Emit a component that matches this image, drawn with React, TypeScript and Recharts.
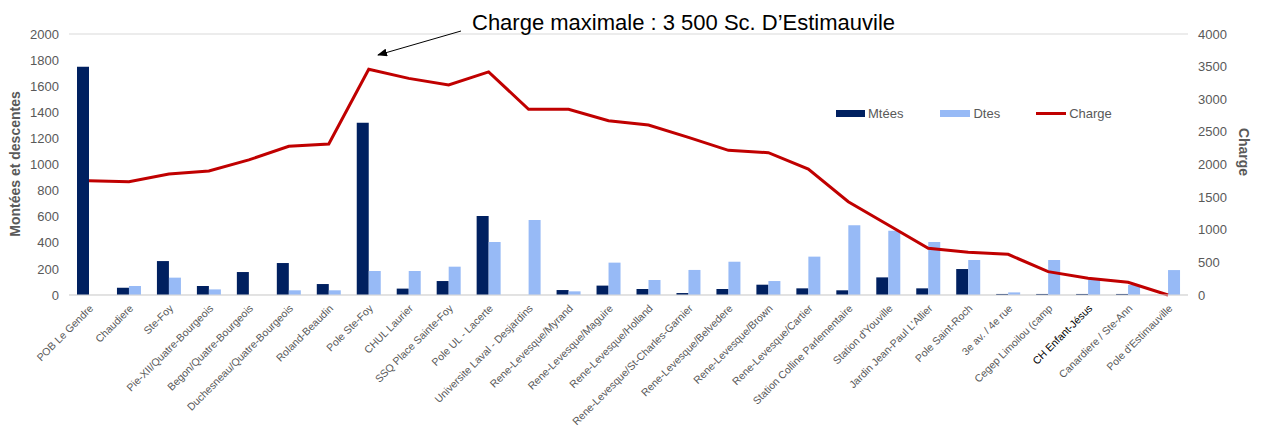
import { ComposedChart, Bar, Line, XAxis, YAxis, CartesianGrid } from 'recharts'

const stations = [
  'POB Le Gendre', 'Chaudiere', 'Ste-Foy', 'Pie-XII/Quatre-Bourgeois', 'Begon/Quatre-Bourgeois',
  'Duchesneau/Quatre-Bourgeois', 'Roland-Beaudin', 'Pole Ste-Foy', 'CHUL Laurier', 'SSQ Place Sainte-Foy',
  'Pole UL - Lacerte', 'Universite Laval - Desjardins', 'Rene-Levesque/Myrand', 'Rene-Levesque/Maguire',
  'Rene-Levesque/Holland', 'Rene-Levesque/St-Charles-Garnier', 'Rene-Levesque/Belvedere', 'Rene-Levesque/Brown',
  'Rene-Levesque/Cartier', 'Station Colline Parlementaire', "Station d'Youville", "Jardin Jean-Paul L'Allier",
  'Pole Saint-Roch', '3e av. / 4e rue', 'Cegep Limoilou (camp', 'CH Enfant-Jésus', 'Canardiere / Ste-Ann',
  "Pole d'Estimauville",
]
const montees = [1750, 56, 260, 69, 176, 245, 84, 1320, 49, 107, 605, 0, 38, 72, 46, 15, 46, 79, 51, 36, 135, 51, 199, 8, 8, 8, 8, 0]
const descentes = [0, 69, 133, 43, 0, 36, 36, 184, 184, 217, 406, 575, 28, 248, 115, 192, 255, 107, 294, 534, 493, 406, 268, 20, 268, 120, 77, 191]
const charge = [1750, 1735, 1855, 1900, 2070, 2280, 2315, 3460, 3320, 3220, 3420, 2845, 2845, 2672, 2605, 2416, 2217, 2181, 1931, 1430, 1073, 715, 654, 623, 358, 256, 194, 0]
const leftTicks = [0, 200, 400, 600, 800, 1000, 1200, 1400, 1600, 1800, 2000]
const rightTicks = [0, 500, 1000, 1500, 2000, 2500, 3000, 3500, 4000]

const data = stations.map((name, i) => ({ name, mtees: montees[i], dtes: descentes[i], charge: charge[i] }))

const FONT = '"Liberation Sans", Arial, sans-serif'
const GREY = '#595959'
const NAVY = '#002060'
const LIGHT = '#97BAF6'
const RED = '#C00000'

function StationTick({ x, y, payload }: any) {
  const dark = payload.value === 'CH Enfant-Jésus'
  const ax = x + 5
  const ay = y + 6
  return (
    <text
      x={ax}
      y={ay}
      textAnchor="end"
      transform={`rotate(-45 ${ax} ${ay})`}
      fontSize={10.5}
      fontFamily={FONT}
      fill={dark ? '#000' : GREY}
    >
      {payload.value}
    </text>
  )
}

export default function App() {
  return (
    <div style={{ position: 'absolute', left: 0, top: 0, width: 1261, height: 430, background: '#fff', fontFamily: FONT }}>
      <ComposedChart
        width={1261}
        height={430}
        data={data}
        margin={{ top: 34, right: 0, bottom: 0, left: 0 }}
        barGap={0}
        barSize={12}
      >
        <CartesianGrid vertical={false} stroke="#D9D9D9" />
        <XAxis
          dataKey="name"
          interval={0}
          height={135}
          tick={<StationTick />}
          tickLine={false}
          axisLine={{ stroke: '#D9D9D9' }}
        />
        <YAxis
          yAxisId="left"
          domain={[0, 2000]}
          ticks={leftTicks}
          width={69}
          axisLine={false}
          tickLine={false}
          tickMargin={4}
          tick={{ fill: GREY, fontSize: 13, fontFamily: FONT }}
        />
        <YAxis
          yAxisId="right"
          orientation="right"
          domain={[0, 4000]}
          ticks={rightTicks}
          width={73}
          axisLine={false}
          tickLine={false}
          tickMargin={4}
          tick={{ fill: GREY, fontSize: 13, fontFamily: FONT, textAnchor: 'start' }}
        />
        <Bar yAxisId="left" dataKey="mtees" name="Mtées" fill={NAVY} isAnimationActive={false} />
        <Bar yAxisId="left" dataKey="dtes" name="Dtes" fill={LIGHT} isAnimationActive={false} />
        <Line
          yAxisId="right"
          dataKey="charge"
          name="Charge"
          stroke={RED}
          strokeWidth={3}
          dot={false}
          type="linear"
          isAnimationActive={false}
        />
      </ComposedChart>

      {/* legend */}
      <div
        style={{
          position: 'absolute', left: 797, top: 101, width: 360, height: 24, background: '#fff',
          display: 'flex', alignItems: 'center', fontSize: 13, color: GREY,
        }}
      >
        <span style={{ display: 'inline-block', width: 29, height: 7, background: NAVY, marginLeft: 39 }} />
        <span style={{ marginLeft: 3 }}>Mtées</span>
        <span style={{ display: 'inline-block', width: 30, height: 7, background: LIGHT, marginLeft: 37 }} />
        <span style={{ marginLeft: 3 }}>Dtes</span>
        <span style={{ display: 'inline-block', width: 30, height: 3, background: RED, marginLeft: 36 }} />
        <span style={{ marginLeft: 3 }}>Charge</span>
      </div>

      {/* titles and annotation */}
      <svg width={1261} height={430} style={{ position: 'absolute', left: 0, top: 0, pointerEvents: 'none' }}>
        <defs>
          <marker id="arrow" markerWidth="10" markerHeight="8" refX="9" refY="4" orient="auto">
            <path d="M0,0 L10,4 L0,8 z" fill="#000" />
          </marker>
        </defs>
        <text
          x={20}
          y={164}
          transform="rotate(-90 20 164)"
          textAnchor="middle"
          fontSize={14}
          fontWeight="bold"
          fill={GREY}
          fontFamily={FONT}
        >
          Montées et descentes
        </text>
        <text
          x={1239}
          y={152}
          transform="rotate(90 1239 152)"
          textAnchor="middle"
          fontSize={14}
          fontWeight="bold"
          fill={GREY}
          fontFamily={FONT}
        >
          Charge
        </text>
        <text x={472} y={30} fontSize={22} fill="#000" fontFamily={FONT}>
          Charge maximale : 3 500 Sc. D’Estimauvile
        </text>
        <line x1={461} y1={31} x2={378} y2={55} stroke="#000" strokeWidth={1} markerEnd="url(#arrow)" />
      </svg>
    </div>
  )
}
